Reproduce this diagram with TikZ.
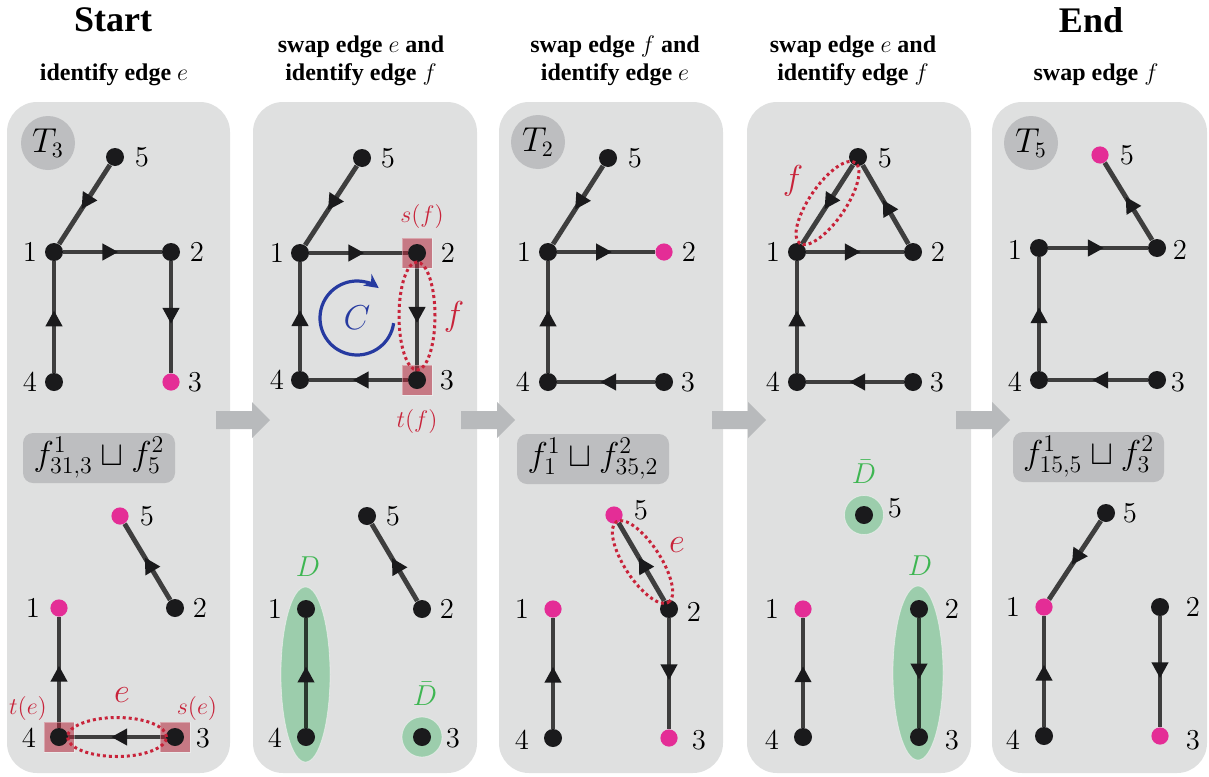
\documentclass[tikz,border=0pt]{standalone}
\usepackage[no-math]{fontspec}
\setmainfont{Liberation Serif}
\usetikzlibrary{arrows.meta,decorations.markings,shapes.geometric}
\definecolor{panelgrey}{RGB}{223,224,224}
\definecolor{boxgrey}{RGB}{189,190,192}
\definecolor{arrowgrey}{RGB}{184,186,188}
\definecolor{nodeblack}{RGB}{26,26,28}
\definecolor{mag}{RGB}{228,45,150}
\definecolor{redc}{RGB}{200,35,58}
\definecolor{sqred}{RGB}{178,38,58}
\definecolor{greenfill}{RGB}{156,205,172}
\definecolor{greentext}{RGB}{62,182,82}
\definecolor{bluec}{RGB}{38,58,160}
\pgfdeclarelayer{panel}
\pgfdeclarelayer{green}
\pgfdeclarelayer{edges}
\pgfdeclarelayer{sq}
\pgfdeclarelayer{fore}
\pgfsetlayers{panel,green,edges,sq,main,fore}
\newcommand\myblockarrow[1]{\fill[arrowgrey] (#1,411) -- ++(36,0) -- ++(0,-9) -- ++(18,18) -- ++(-18,18) -- ++(0,-9) -- ++(-36,0) -- cycle;}
\tikzset{
  fs/.style={font=\fontsize{#1}{#1}\selectfont},
  panelbox/.style={fill=panelgrey, rounded corners=15pt},
  hdr/.style={inner sep=0pt, font=\bfseries\fontsize{12}{14}\selectfont},
  bighdr/.style={inner sep=0pt, font=\bfseries\fontsize{18}{20}\selectfont},
  vtx/.style={circle, fill=nodeblack, inner sep=0pt, minimum size=9pt},
  mvtx/.style={vtx, fill=mag, minimum size=8.6pt},
  lbl/.style={inner sep=0pt, fs=14},
  medge/.style={draw=black, draw opacity=0.72, line width=2.4pt, postaction=decorate,
    decoration={markings, mark=at position 0.56 with {\arrow[nodeblack,opacity=1]{Triangle[length=8pt,width=8pt]}}}},
  tcirc/.style={circle, fill=boxgrey, minimum size=27pt, inner sep=0pt, fs=16},
  fbox/.style={rectangle, rounded corners=5pt, fill=boxgrey, inner sep=0pt, minimum height=25pt, fs=17},
  sqbox/.style={rectangle, fill=sqred, fill opacity=0.55, draw=white, draw opacity=0.35, line width=0.4pt, minimum size=15pt, inner sep=0pt},
  dotell/.style={ellipse, draw=redc, line width=1.5pt, dash pattern=on 1.5pt off 1.5pt, inner sep=0pt},
  gell/.style={ellipse, fill=greenfill, draw=white, draw opacity=0.45, line width=0.4pt, inner sep=0pt},
  redlbl/.style={inner sep=0pt, text=redc, fs=11.5},
  redbig/.style={inner sep=0pt, text=redc, fs=19},
  greenlbl/.style={inner sep=0pt, text=greentext, fs=14.5},
  carrow/.style={draw=bluec, line width=1.6pt, -{Stealth[length=7pt,width=7pt]}}
}
\begin{document}
\begin{tikzpicture}[x=0.5pt,y=-0.5pt]
\useasboundingbox (0,0) rectangle (1209,776);
% panels
\begin{pgfonlayer}{panel}
\fill[panelbox] (7,102) rectangle (230,773);
\fill[panelbox] (253,102) rectangle (477,773);
\fill[panelbox] (499,102) rectangle (723,773);
\fill[panelbox] (747,102) rectangle (971,773);
\fill[panelbox] (992,102) rectangle (1207,773);
\myblockarrow{216}
\myblockarrow{461}
\myblockarrow{712}
\myblockarrow{956}
\end{pgfonlayer}
% headers
\node[bighdr] (h1a) at (113,20) {Start};
\node[hdr] (h1b) at (114,75) {identify edge $e$};
\node[hdr] (h2a) at (361,47) {swap edge $e$ and};
\node[hdr] (h2b) at (361,75) {identify edge $f$};
\node[hdr] (h3a) at (615,47) {swap edge $f$ and};
\node[hdr] (h3b) at (615,75) {identify edge $e$};
\node[hdr] (h4a) at (853,47) {swap edge $e$ and};
\node[hdr] (h4b) at (853,75) {identify edge $f$};
\node[bighdr] (h5a) at (1091,20) {End};
\node[hdr] (h5b) at (1096,75) {swap edge $f$};

% ===== Panel 1 =====
\node[tcirc] (t1) at (48,143) {$T_3$};
\node[vtx] (a5) at (115,157) {};
\node[vtx] (a1) at (54,252) {};
\node[vtx] (a2) at (171,252) {};
\node[vtx] (a4) at (54,382) {};
\node[mvtx] (a3) at (171,382) {};
\node[lbl] (la5) at (142,157) {$5$};
\node[lbl] (la1) at (30,252) {$1$};
\node[lbl] (la2) at (197,252) {$2$};
\node[lbl] (la4) at (30,382) {$4$};
\node[lbl] (la3) at (195,382) {$3$};
\node[fbox, minimum width=76pt] (fb1) at (99,458) {$f^1_{31,3}\sqcup f^2_5$};
\node[mvtx] (b5) at (120,516) {};
\node[vtx] (b2) at (175,608) {};
\node[mvtx] (b1) at (59,608) {};
\node[vtx] (b4) at (59,737) {};
\node[vtx] (b3) at (175,737) {};
\node[lbl] (lb5) at (147,516) {$5$};
\node[lbl] (lb2) at (200,608) {$2$};
\node[lbl] (lb1) at (33,608) {$1$};
\node[lbl] (lb4) at (29,738) {$4$};
\node[lbl] (lb3) at (203,738) {$3$};
\node[redlbl] (te) at (28,708) {$t(e)$};
\node[redlbl] (se) at (197,708) {$s(e)$};
\node[redbig] (ee1) at (122,695) {$e$};
\begin{pgfonlayer}{sq}
\node[sqbox] (sqb4) at (b4) {};
\node[sqbox] (sqb3) at (b3) {};
\end{pgfonlayer}
\begin{pgfonlayer}{fore}
\node[dotell, minimum width=49.5pt, minimum height=19.5pt] (el1) at (117,737) {};
\end{pgfonlayer}
\begin{pgfonlayer}{edges}
\draw[medge] (a5) -- (a1);
\draw[medge] (a1) -- (a2);
\draw[medge] (a2) -- (a3);
\draw[medge] (a4) -- (a1);
\draw[medge] (b2) -- (b5);
\draw[medge] (b4) -- (b1);
\draw[medge] (b3) -- (b4);
\end{pgfonlayer}

% ===== Panel 2 =====
\node[vtx] (c5) at (362,158) {};
\node[vtx] (c1) at (300,253) {};
\node[vtx] (c2) at (417,253) {};
\node[vtx] (c4) at (300,380) {};
\node[vtx] (c3) at (417,380) {};
\node[lbl] (lc5) at (388,158) {$5$};
\node[lbl] (lc1) at (277,253) {$1$};
\node[lbl] (lc2) at (448,253) {$2$};
\node[lbl] (lc4) at (277,380) {$4$};
\node[lbl] (lc3) at (447,380) {$3$};
\node[redlbl] (sf) at (422,216) {$s(f)$};
\node[redlbl] (tf) at (417,421) {$t(f)$};
\node[redbig] (ff2) at (454,317) {$f$};
\node[inner sep=0pt, text=bluec, fs=17] (cl) at (357,318) {$C$};
\draw[carrow] (cl.center) ++(-8:18.5pt) arc[start angle=-8, end angle=-306, radius=18.5pt];
\begin{pgfonlayer}{sq}
\node[sqbox] (sqc2) at (c2) {};
\node[sqbox] (sqc3) at (c3) {};
\end{pgfonlayer}
\begin{pgfonlayer}{fore}
\node[dotell, minimum width=18pt, minimum height=54pt] (el2) at (417,316) {};
\end{pgfonlayer}
\node[vtx] (d5) at (367,516) {};
\node[vtx] (d2) at (422,609) {};
\node[vtx] (d1) at (306,609) {};
\node[vtx] (d4) at (306,737) {};
\node[vtx] (d3) at (422,737) {};
\node[lbl] (ld5) at (393,516) {$5$};
\node[lbl] (ld2) at (447,609) {$2$};
\node[lbl] (ld1) at (275,609) {$1$};
\node[lbl] (ld4) at (275,738) {$4$};
\node[lbl] (ld3) at (453,738) {$3$};
\node[greenlbl] (gD2) at (308,567) {$D$};
\node[greenlbl] (gDb2) at (425,694) {$\bar{D}$};
\begin{pgfonlayer}{green}
\node[gell, minimum width=24.5pt, minimum height=87.5pt] (ge2) at (305.5,674.5) {};
\node[gell, minimum width=20pt, minimum height=20pt] (gc2) at (d3) {};
\end{pgfonlayer}
\begin{pgfonlayer}{edges}
\draw[medge] (c5) -- (c1);
\draw[medge] (c1) -- (c2);
\draw[medge] (c2) -- (c3);
\draw[medge] (c3) -- (c4);
\draw[medge] (c4) -- (c1);
\draw[medge] (d2) -- (d5);
\draw[medge] (d4) -- (d1);
\end{pgfonlayer}

% ===== Panel 3 =====
\node[tcirc] (t2) at (538,142) {$T_2$};
\node[vtx] (e5) at (608,158) {};
\node[vtx] (e1) at (548,252) {};
\node[mvtx] (e2) at (664,252) {};
\node[vtx] (e4) at (548,382) {};
\node[vtx] (e3) at (664,382) {};
\node[lbl] (le5) at (635,158) {$5$};
\node[lbl] (le1) at (524,252) {$1$};
\node[lbl] (le2) at (689,252) {$2$};
\node[lbl] (le4) at (523,382) {$4$};
\node[lbl] (le3) at (688,382) {$3$};
\node[fbox, minimum width=76pt] (fb3) at (593,459) {$f^1_{1}\sqcup f^2_{35,2}$};
\node[mvtx] (g5) at (614,515) {};
\node[vtx] (g2) at (669,609) {};
\node[mvtx] (g1) at (553,609) {};
\node[vtx] (g4) at (553,738) {};
\node[mvtx] (g3) at (669,738) {};
\node[lbl] (lg5) at (641,510) {$5$};
\node[lbl] (lg2) at (694,612) {$2$};
\node[lbl] (lg1) at (522,609) {$1$};
\node[lbl] (lg4) at (522,740) {$4$};
\node[lbl] (lg3) at (699,740) {$3$};
\node[redbig] (ee3) at (677,545) {$e$};
\begin{pgfonlayer}{fore}
\node[dotell, minimum width=48pt, minimum height=18pt, rotate=-57] (el3) at (642.5,562) {};
\end{pgfonlayer}
\begin{pgfonlayer}{edges}
\draw[medge] (e5) -- (e1);
\draw[medge] (e1) -- (e2);
\draw[medge] (e3) -- (e4);
\draw[medge] (e4) -- (e1);
\draw[medge] (g2) -- (g5);
\draw[medge] (g4) -- (g1);
\draw[medge] (g2) -- (g3);
\end{pgfonlayer}

% ===== Panel 4 =====
\node[vtx] (h5) at (858,157) {};
\node[vtx] (h1) at (797,252) {};
\node[vtx] (h2) at (913,252) {};
\node[vtx] (h4) at (797,382) {};
\node[vtx] (h3) at (913,382) {};
\node[lbl] (lh5) at (885,158) {$5$};
\node[lbl] (lh1) at (773,252) {$1$};
\node[lbl] (lh2) at (938,252) {$2$};
\node[lbl] (lh4) at (773,382) {$4$};
\node[lbl] (lh3) at (937,382) {$3$};
\node[redbig] (ff4) at (793,181) {$f$};
\begin{pgfonlayer}{fore}
\node[dotell, minimum width=49pt, minimum height=18pt, rotate=55.5] (el4) at (827.5,203) {};
\end{pgfonlayer}
\node[vtx] (k5) at (864,515) {};
\node[mvtx] (k1) at (803,609) {};
\node[vtx] (k4) at (803,737) {};
\node[vtx] (k2) at (919,609) {};
\node[vtx] (k3) at (919,737) {};
\node[lbl] (lk5) at (895,508) {$5$};
\node[lbl] (lk1) at (772,609) {$1$};
\node[lbl] (lk4) at (772,740) {$4$};
\node[lbl] (lk2) at (952,609) {$2$};
\node[lbl] (lk3) at (952,740) {$3$};
\node[greenlbl] (gDb4) at (864,472) {$\bar{D}$};
\node[greenlbl] (gD4) at (920,566) {$D$};
\begin{pgfonlayer}{green}
\node[gell, minimum width=19.5pt, minimum height=19.5pt] (gc4) at (k5) {};
\node[gell, minimum width=25pt, minimum height=87pt] (ge4) at (918,673) {};
\end{pgfonlayer}
\begin{pgfonlayer}{edges}
\draw[medge] (h5) -- (h1);
\draw[medge] (h2) -- (h5);
\draw[medge] (h1) -- (h2);
\draw[medge] (h3) -- (h4);
\draw[medge] (h4) -- (h1);
\draw[medge] (k4) -- (k1);
\draw[medge] (k2) -- (k3);
\end{pgfonlayer}

% ===== Panel 5 =====
\node[tcirc] (t5) at (1031,143) {$T_5$};
\node[mvtx] (m5) at (1100,155) {};
\node[vtx] (m2) at (1157,248) {};
\node[vtx] (m1) at (1039,248) {};
\node[vtx] (m4) at (1039,380) {};
\node[vtx] (m3) at (1157,380) {};
\node[lbl] (lm5) at (1127,155) {$5$};
\node[lbl] (lm2) at (1180,250) {$2$};
\node[lbl] (lm1) at (1015,250) {$1$};
\node[lbl] (lm4) at (1015,382) {$4$};
\node[lbl] (lm3) at (1178,382) {$3$};
\node[fbox, minimum width=75.5pt] (fb5) at (1088.5,457) {$f^1_{15,5}\sqcup f^2_3$};
\node[vtx] (n5) at (1106,513) {};
\node[mvtx] (n1) at (1044,607) {};
\node[vtx] (n2) at (1160,607) {};
\node[vtx] (n4) at (1044,736) {};
\node[mvtx] (n3) at (1160,736) {};
\node[lbl] (ln5) at (1130,513) {$5$};
\node[lbl] (ln1) at (1013,607) {$1$};
\node[lbl] (ln2) at (1193,607) {$2$};
\node[lbl] (ln4) at (1013,740) {$4$};
\node[lbl] (ln3) at (1193,740) {$3$};
\begin{pgfonlayer}{edges}
\draw[medge] (m2) -- (m5);
\draw[medge] (m1) -- (m2);
\draw[medge] (m4) -- (m1);
\draw[medge] (m3) -- (m4);
\draw[medge] (n5) -- (n1);
\draw[medge] (n4) -- (n1);
\draw[medge] (n2) -- (n3);
\end{pgfonlayer}
\end{tikzpicture}
\end{document}
